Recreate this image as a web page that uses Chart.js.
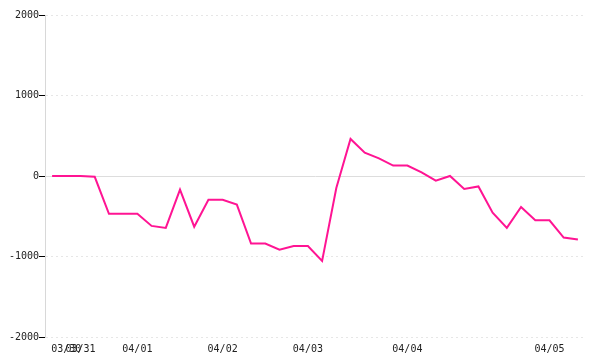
<!DOCTYPE html>
<html>
<head>
<meta charset="utf-8">
<script src="https://cdn.jsdelivr.net/npm/chart.js@4/dist/chart.umd.min.js"></script>
<style>
  html, body { margin: 0; padding: 0; background: #fff; }
  #wrap { width: 600px; height: 360px; }
</style>
</head>
<body>
<div id="wrap"><canvas id="chart"></canvas></div>
<script>
// one label per point, only the day changes are shown
const dayLabels = [
  '', '03/30', '03/31', '', '', '', '04/01', '', '', '', '', '', '04/02', '', '', '', '', '', '04/03',
  '', '', '', '', '', '', '04/04', '', '', '', '', '', '', '', '', '', '04/05', '', ''
];
const values = [
  0, 0, 0, -10, -470, -470, -470, -620, -645, -170, -630, -295, -295, -355, -840, -840, -915, -870, -870,
  -1055, -150, 460, 290, 220, 130, 130, 45, -58, 0, -160, -130, -455, -645, -385, -550, -550, -765, -790
];
const yTicks = [-2000, -1000, 0, 1000, 2000];

const lineColor = '#ff1493';
const monoFont = { family: '"DejaVu Sans Mono", "Liberation Mono", monospace', size: 10 };

new Chart(document.getElementById('chart'), {
  type: 'line',
  data: {
    labels: dayLabels,
    datasets: [{
      data: values,
      borderColor: lineColor,
      borderWidth: 2,
      pointRadius: 0,
      tension: 0,
      fill: false
    }]
  },
  options: {
    responsive: true,
    maintainAspectRatio: false,
    animation: false,
    layout: { padding: { left: 0, right: 15, top: 15, bottom: 0 } },
    plugins: {
      legend: { display: false },
      tooltip: { enabled: false }
    },
    scales: {
      x: {
        type: 'category',
        offset: true,
        grid: { display: false, drawTicks: false },
        border: { display: false },
        ticks: {
          autoSkip: false,
          maxRotation: 0,
          padding: 6,
          color: '#222',
          font: monoFont
        },
        afterFit: (scale) => { scale.height = 23; }
      },
      y: {
        min: -2000,
        max: 2000,
        afterBuildTicks: (scale) => { scale.ticks = yTicks.map(v => ({ value: v })); },
        grid: {
          color: (ctx) => ctx.tick && ctx.tick.value === 0 ? '#dddddd' : '#e6e6e6',
          lineWidth: 1,
          tickLength: 6,
          tickColor: '#000',
          tickBorderDash: []
        },
        border: {
          display: true,
          color: '#d8d8d8',
          dash: (ctx) => ctx.tick && ctx.tick.value === 0 ? [] : [2, 3]
        },
        ticks: {
          padding: 0,
          color: '#222',
          font: monoFont,
          callback: (v) => String(v)
        },
        afterFit: (scale) => { scale.width = 45; }
      }
    }
  }
});
</script>
</body>
</html>
